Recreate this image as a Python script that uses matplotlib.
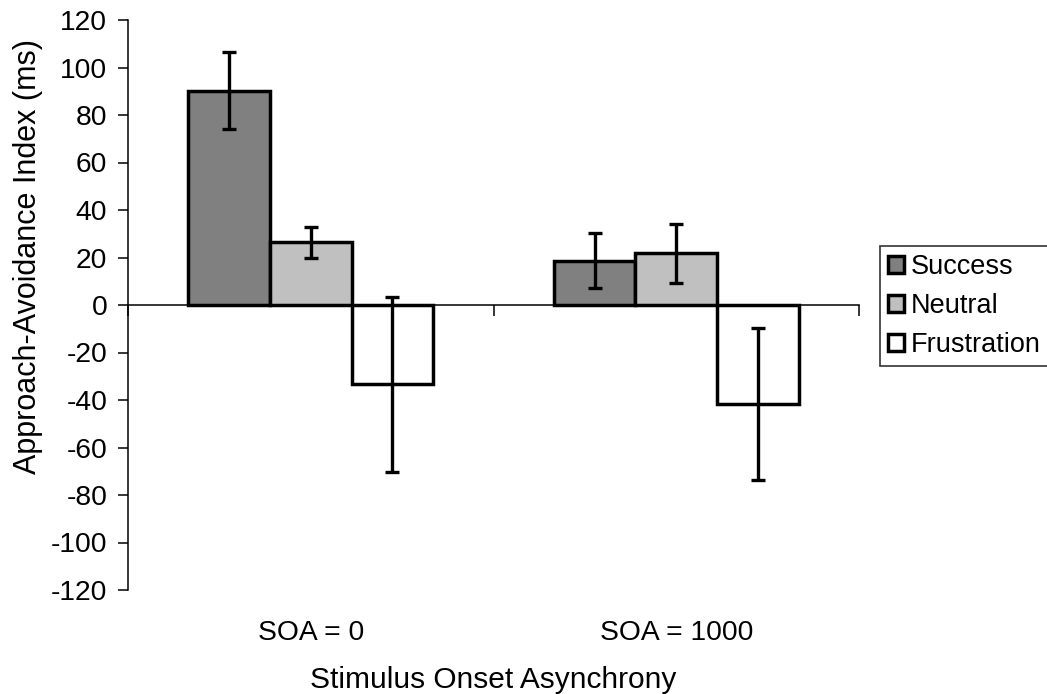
import numpy as np
import matplotlib
matplotlib.use('Agg')
import matplotlib.pyplot as plt

plt.rcParams['font.family'] = ['Liberation Sans', 'DejaVu Sans']
plt.rcParams['axes.unicode_minus'] = False

# data
categories = ['SOA = 0', 'SOA = 1000']
series = ['Success', 'Neutral', 'Frustration']
means = {
    'Success': [90.3, 18.7],
    'Neutral': [26.5, 21.8],
    'Frustration': [-33.4, -41.6],
}
errors = {
    'Success': [16.1, 11.6],
    'Neutral': [6.5, 12.4],
    'Frustration': [36.8, 32.0],
}
colors = {'Success': '#808080', 'Neutral': '#c0c0c0', 'Frustration': '#ffffff'}
yticks = list(range(-120, 121, 20))

fs = 20.3
fig = plt.figure(figsize=(10.47, 6.94), dpi=100)
ax = fig.add_axes([128/1047, 1-590/694, (859-128)/1047, (590-20)/694])

x = np.arange(len(categories))
w = 0.2235
for i, s in enumerate(series):
    pos = x + (i-1)*w
    ax.bar(pos, means[s], width=w, color=colors[s], edgecolor='black',
           linewidth=2.5, label=s, zorder=2)
    ax.errorbar(pos, means[s], yerr=errors[s], fmt='none', ecolor='black',
                elinewidth=2.4, capsize=5, capthick=2.4, zorder=3)

ax.set_xlim(-0.5, len(categories)-0.5)
ax.set_ylim(-120, 120)
ax.set_yticks(yticks)
ax.set_yticklabels([str(v) for v in yticks], fontsize=fs)
ax.tick_params(axis='y', direction='out', length=7, width=1.1, pad=8)

ax.spines['top'].set_visible(False)
ax.spines['right'].set_visible(False)
ax.spines['left'].set_linewidth(1.1)
ax.spines['bottom'].set_position(('data', 0))
ax.spines['bottom'].set_linewidth(1.1)
ax.spines['bottom'].set_zorder(1)

# category boundaries as ticks on the zero line
ax.set_xticks(np.arange(-0.5, len(categories)), labels=[])
ax.tick_params(axis='x', direction='out', length=8, width=1.1)

for xi, c in zip(x, categories):
    ax.text(xi, -0.075, c, transform=ax.get_xaxis_transform(),
            ha='center', va='center', fontsize=fs)
ax.text(0.5, -0.158, 'Stimulus Onset Asynchrony', transform=ax.transAxes,
        ha='center', va='center', fontsize=21.5)
fig.text(28/1047, 1-257/694, 'Approach-Avoidance Index (ms)', rotation=90,
         ha='center', va='center', fontsize=22)

leg = ax.legend(loc='upper left', bbox_to_anchor=(880/1047, 1-246/694),
                bbox_transform=fig.transFigure, fontsize=19.5, frameon=True,
                fancybox=False, handlelength=0.6, handleheight=0.6,
                handletextpad=0.25, borderpad=0.3, labelspacing=0.48,
                borderaxespad=0)
leg.get_frame().set_edgecolor('black')
leg.get_frame().set_linewidth(1.2)

fig.savefig('out.png', dpi=100)
